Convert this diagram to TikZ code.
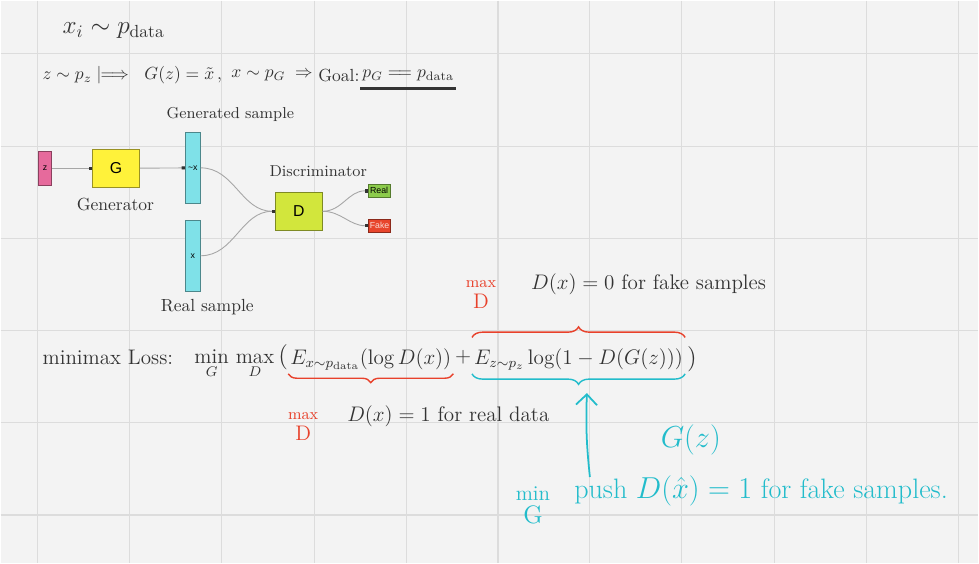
\documentclass[tikz,border=0pt]{standalone}
\usepackage{amsmath}
\usepackage{amssymb}
\usepackage{fontspec}
\usetikzlibrary{arrows.meta, positioning, decorations.pathreplacing, calc}
\newfontfamily\boxfont{Liberation Sans}
\definecolor{ganbg}{HTML}{F3F3F3}
\definecolor{gangrid}{HTML}{DCDCDC}
\definecolor{ganpink}{HTML}{E66A9C}
\definecolor{ganyellow}{HTML}{FFF23A}
\definecolor{gancyan}{HTML}{7FE1E8}
\definecolor{ganlime}{HTML}{D2E63C}
\definecolor{gangreen}{HTML}{8CCB4B}
\definecolor{ganred}{HTML}{E8452C}
\definecolor{inkred}{HTML}{E8412B}
\definecolor{inkcyan}{HTML}{22BCCB}
\definecolor{inkgray}{HTML}{333333}

\begin{document}
\begin{tikzpicture}[x=0.02cm, y=-0.02cm,
    box/.style={draw=#1!60!black, fill=#1, line width=0.5pt, inner sep=0pt, font=\boxfont},
    wire/.style={draw=gray!70, line width=0.5pt, -{Square[length=1.8pt, width=1.8pt, color=inkgray]}},
    hand/.style={font=\large, text=inkgray, inner sep=1pt},
    brace/.style={decorate, decoration={brace, amplitude=#1}, line width=0.8pt},
]
    % board
    \fill[ganbg] (0,0) rectangle (979,563);
    \foreach \gx in {37,129,221,314,406,498,590,682,775,867,959}
        \draw[gangrid, line width=0.6pt] (\gx,0) -- (\gx,563);
    \foreach \gy in {53,146,238,330,422,515}
        \draw[gangrid, line width=0.6pt] (0,\gy) -- (979,\gy);
    \useasboundingbox (0,0) rectangle (979,563);

    % data and goal
    \node[hand, font=\Large, anchor=west] (data) at (60,30) {$x_i \sim p_{\mathrm{data}}$};
    \node[hand, font=\normalsize, anchor=west] (zdist) at (40,75) {$z\sim p_z \;|\!\!\Longrightarrow$};
    \node[hand, font=\normalsize, anchor=west] (gofz) at (142,75) {$G(z)=\tilde{x}\,,$};
    \node[hand, font=\normalsize, anchor=west] (pg) at (229,75) {$x\sim p_G \;\Rightarrow$};
    \node[hand, font=\normalsize, anchor=west] (goal) at (316,75) {Goal:};
    \node[hand, font=\normalsize, anchor=west] (target) at (360,75) {$p_G \mathrel{=\!=} p_{\mathrm{data}}$};
    \draw[inkgray, line width=1.4pt] ([yshift=-3pt]target.south west) -- ([yshift=-3pt]target.south east);

    % generator / discriminator
    \node[box=ganpink, minimum width=0.26cm, minimum height=0.68cm, font=\boxfont\tiny] (z) at (44.5,168) {z};
    \node[box=ganyellow, minimum width=0.94cm, minimum height=0.76cm, font=\boxfont\small] (G) at (115.5,168) {G};
    \node[box=gancyan, minimum width=0.3cm, minimum height=1.42cm, font=\boxfont\tiny] (xfake) at (192.5,167.5) {\textasciitilde x};
    \node[box=gancyan, minimum width=0.3cm, minimum height=1.42cm, font=\boxfont\tiny] (xreal) at (192.5,255.5) {x};
    \node[box=ganlime, minimum width=0.94cm, minimum height=0.76cm, font=\boxfont\small] (D) at (298.5,211) {D};
    \node[box=gangreen, minimum width=0.44cm, minimum height=0.26cm, font=\boxfont\tiny] (real) at (379,190.5) {Real};
    \node[box=ganred, minimum width=0.44cm, minimum height=0.26cm, font=\boxfont\tiny, text=white!80!ganred] (fake) at (379.5,225.5) {Fake};

    \node[hand, font=\small] (genlabel) at (230,114) {Generated sample};
    \node[hand, font=\normalsize] (gnlabel) at (115,204) {Generator};
    \node[hand, font=\normalsize] (reallabel) at (207,307) {Real sample};
    \node[hand, font=\small] (dlabel) at (318,171) {Discriminator};

    \draw[wire] (z) -- (G);
    \draw[wire] (G) -- (xfake);
    \draw[wire] (xfake.east) to[out=0, in=180] (D.west);
    \draw[wire] (xreal.east) to[out=0, in=180] (D.west);
    \draw[wire] (D.east) to[out=0, in=180] (real.west);
    \draw[wire] (D.east) to[out=0, in=180] (fake.west);

    % loss
    \node[hand, anchor=west] (lossname) at (40,357) {minimax Loss:};
    \node[hand] (minmax) at (234,364) {$\displaystyle\min_{G}\,\max_{D}$};
    \node[hand, font=\Large, anchor=west] (lpar) at (276,357) {$($};
    \node[hand, anchor=west] (realterm) at (288,359) {$E_{x\sim p_{\mathrm{data}}}(\log D(x))$};
    \node[hand] (plus) at (463,357) {$+$};
    \node[hand, anchor=west] (faketerm) at (472,359) {$E_{z\sim p_z}\log(1-D(G(z)))$};
    \node[hand, font=\Large, right=0pt of faketerm] (rpar) {$)$};

    \draw[brace=5pt, inkred] ([yshift=-1pt]realterm.south east) -- ([yshift=-1pt]realterm.south west);
    \draw[brace=6pt, inkred] ([yshift=5pt]faketerm.north west) -- ([yshift=5pt]faketerm.north east);
    \draw[brace=6pt, inkcyan] ([yshift=-1pt]faketerm.south east) -- ([yshift=-1pt]faketerm.south west);

    % notes
    \node[text=inkred, align=center, inner sep=0pt] (maxreal) at (303,426) {{\small max}\\[0pt]{\large D}};
    \node[hand, anchor=west] (realnote) at (345,416) {$D(x)=1$ for real data};
    \node[text=inkred, align=center, inner sep=0pt] (maxfake) at (481,294) {{\small max}\\[0pt]{\large D}};
    \node[hand, anchor=west] (fakenote) at (529,284) {$D(x)=0$ for fake samples};

    \node[text=inkcyan, inner sep=0pt, font=\fontsize{16}{18}\selectfont] (gz) at (691,440) {$G(z)$};
    \node[text=inkcyan, align=center, inner sep=0pt] (ming) at (533,505) {{\large min}\\[1pt]{\Large G}};
    \node[text=inkcyan, anchor=west, inner sep=0pt, font=\fontsize{16}{18}\selectfont] (pushnote) at (574,491) {push $D(\hat{x})=1$ for fake samples.};
    \coordinate (pushfoot) at (590,477);
    \coordinate (bracetip) at (587,393);
    \draw[inkcyan, line width=1pt, -{Straight Barb[length=6pt]}] (pushfoot) to[bend left=4] (bracetip);
\end{tikzpicture}
\end{document}
